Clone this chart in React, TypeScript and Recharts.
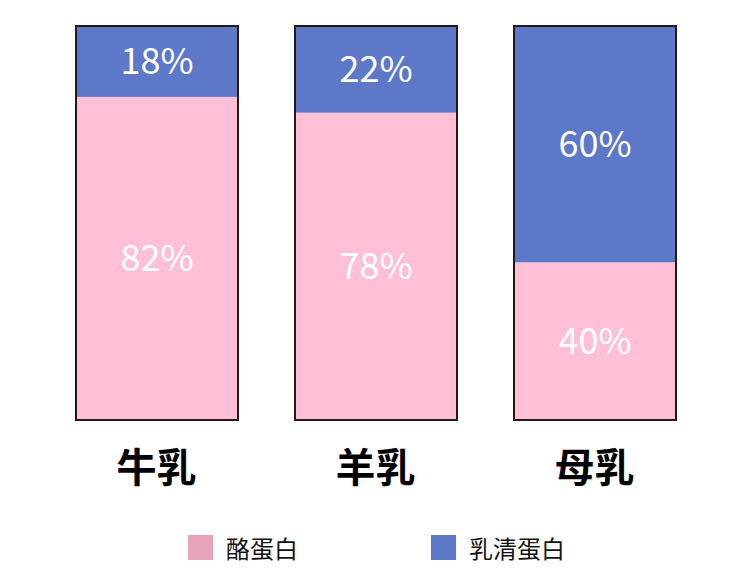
import React from 'react';
import { BarChart, Bar, XAxis, YAxis, LabelList } from 'recharts';

const categories = ['牛乳', '羊乳', '母乳'];
const caseinValues = [82, 78, 40];
const wheyValues = [18, 22, 60];
const seriesNames = ['酪蛋白', '乳清蛋白'];
const legendColors = ['#e8a3bc', '#5d78c8'];

const PINK = '#ffc0d7';
const BLUE = '#5d78c8';
const BORDER = '#231815';
const FONT = '"Noto Sans CJK SC", "Noto Sans", sans-serif';

const data = categories.map((name, i) => ({
  name,
  casein: caseinValues[i],
  whey: wheyValues[i],
}));

const WheyShape = (props: any) => {
  const { x, y, width, height, payload } = props;
  const total = payload.casein + payload.whey;
  const fullH = (height * total) / payload.whey;
  return (
    <g>
      <rect x={x} y={y} width={width} height={height} fill={BLUE} />
      <rect x={x} y={y} width={width} height={fullH} fill="none" stroke={BORDER} strokeWidth={2} />
    </g>
  );
};

const CategoryTick = (props: any) => {
  const { x, y, payload } = props;
  return (
    <text x={x} y={y + 37} textAnchor="middle" dominantBaseline="central" fontSize={40} fontWeight={700} fill="#000" fontFamily={FONT}>
      {payload.value}
    </text>
  );
};

const pct = (v: any) => `${v}%`;

export default function App() {
  return (
    <div style={{ position: 'absolute', left: 0, top: 0, width: 750, height: 579, background: '#fff', fontFamily: FONT }}>
      <BarChart width={750} height={579} data={data} margin={{ top: 26, right: 46, left: 47, bottom: 99 }} barSize={162}>
        <XAxis dataKey="name" axisLine={false} tickLine={false} height={60} tick={<CategoryTick />} interval={0} />
        <YAxis hide domain={[0, 100]} />
        <Bar dataKey="casein" stackId="a" fill={PINK} isAnimationActive={false}>
          <LabelList dataKey="casein" position="center" formatter={pct} fill="#fff" fontSize={36} fontFamily={FONT} />
        </Bar>
        <Bar dataKey="whey" stackId="a" fill={BLUE} shape={<WheyShape />} isAnimationActive={false}>
          <LabelList dataKey="whey" position="center" formatter={pct} fill="#fff" fontSize={36} fontFamily={FONT} />
        </Bar>
      </BarChart>
      {seriesNames.map((n, i) => (
        <div key={n} style={{ position: 'absolute', top: 535, left: i === 0 ? 188 : 431, display: 'flex', alignItems: 'center', height: 25 }}>
          <div style={{ width: 25, height: 25, background: legendColors[i] }} />
          <span style={{ marginLeft: 13, fontSize: 24, color: '#111', lineHeight: '25px', fontFamily: FONT }}>{n}</span>
        </div>
      ))}
    </div>
  );
}
